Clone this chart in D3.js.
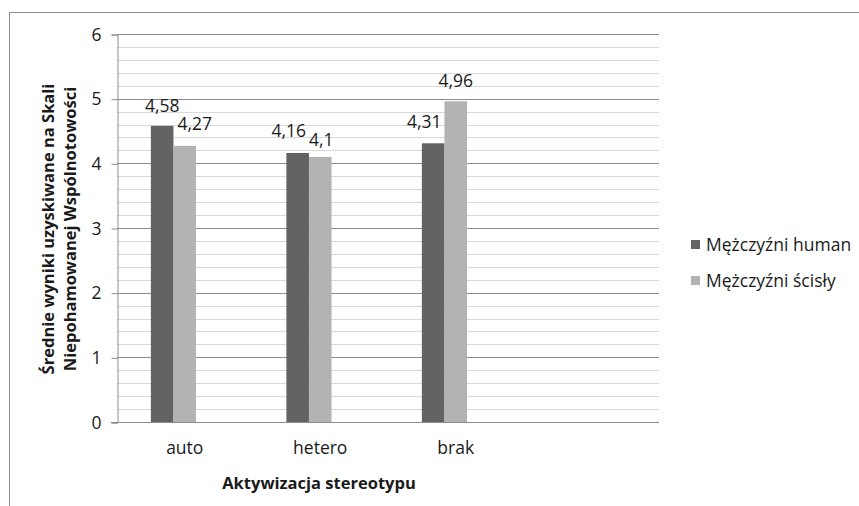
<!DOCTYPE html>
<html><head><meta charset="utf-8">
<script src="https://cdn.jsdelivr.net/npm/d3@7"></script>
<style>body{margin:0;background:#fff}svg{display:block}text{font-family:"Open Sans",sans-serif;fill:#1a1a1a}</style>
</head><body><svg id="c" width="859" height="506"></svg>
<script>
const categories = ["auto", "hetero", "brak"];
const seriesNames = ["Mężczyźni human", "Mężczyźni ścisły"];
const human = [4.58, 4.16, 4.31];
const scisly = [4.27, 4.1, 4.96];
const yTicks = [0, 1, 2, 3, 4, 5, 6];
const yTitle = ["Średnie wyniki uzyskiwane na Skali", "Niepohamowanej Wspólnotowości"];
const xTitle = "Aktywizacja stereotypu";

const colors = ["#636363", "#b3b3b3"];
const values = [human, scisly];
const svg = d3.select("#c");
const L = 117, R = 659, T = 34, B = 422;
const FS = 17.5;

// frame
svg.append("path").attr("d", "M9.5,506 V12.5 H859").attr("fill", "none").attr("stroke", "#8c8c8c");

const y = d3.scaleLinear().domain([0, 6]).range([B, T]);
// 4 slots (last empty) and 3 sub-slots (last empty), as in the original layout
const x = d3.scaleBand().domain(categories.concat(["_empty"])).range([L, R]).paddingInner(0.5).paddingOuter(0.25);
const xs = d3.scaleBand().domain(seriesNames.concat(["_empty"])).range([0, x.bandwidth()]);

// minor grid
const minor = d3.range(0, 30).map(i => i * 0.2).filter(v => Math.abs(v - Math.round(v)) > 1e-6);
svg.append("g").selectAll("line").data(minor).join("line")
  .attr("x1", L).attr("x2", R).attr("y1", d => Math.round(y(d)) + 0.5).attr("y2", d => Math.round(y(d)) + 0.5)
  .attr("stroke", "#d9d9d9");
// major grid
svg.append("g").selectAll("line").data(yTicks.slice(1)).join("line")
  .attr("x1", L).attr("x2", R).attr("y1", d => Math.round(y(d)) + 0.5).attr("y2", d => Math.round(y(d)) + 0.5)
  .attr("stroke", "#8c8c8c");

// y axis
const yAxis = svg.append("g").attr("transform", `translate(${L + 0.5},0.5)`)
  .call(d3.axisLeft(y).tickValues(yTicks).tickSize(6).tickPadding(10).tickFormat(d3.format("d")));
yAxis.select(".domain").attr("stroke", "#8c8c8c");
yAxis.selectAll(".tick line").attr("stroke", "#8c8c8c");
yAxis.selectAll("text").attr("font-size", FS).attr("fill", "#1a1a1a").attr("font-family", "Open Sans");

// bars
categories.forEach((c, ci) => {
  seriesNames.forEach((s, si) => {
    const v = values[si][ci];
    svg.append("rect").attr("x", x(c) + xs(s)).attr("width", xs.bandwidth())
      .attr("y", y(v)).attr("height", y(0) - y(v)).attr("fill", colors[si]);
  });
});

// x axis
const xAxis = svg.append("g").attr("transform", `translate(0,${B + 0.5})`)
  .call(d3.axisBottom(x).tickValues(categories).tickSize(0).tickPadding(19));
xAxis.select(".domain").attr("d", `M${L - 6},0H${R}`).attr("stroke", "#8c8c8c");
xAxis.selectAll("text").attr("font-size", FS).attr("fill", "#1a1a1a").attr("font-family", "Open Sans");

// data labels (nudged like the original)
const nudge = [[[0, 0], [10, -2]], [[-9, -2], [1, 3]], [[-9, -1], [0, 0]]];
categories.forEach((c, ci) => {
  seriesNames.forEach((s, si) => {
    const v = values[si][ci];
    const n = nudge[ci][si];
    svg.append("text").attr("x", x(c) + xs(s) + xs.bandwidth() / 2 + n[0]).attr("y", y(v) - 14 + n[1])
      .attr("text-anchor", "middle").attr("font-size", FS).text(d3.format(".2~f")(v).replace(".", ","));
  });
});

// titles
svg.append("text").attr("x", 319).attr("y", 489).attr("text-anchor", "middle")
  .attr("font-size", 16.5).attr("font-weight", "bold").text(xTitle);
yTitle.forEach((t, i) => {
  svg.append("text").attr("transform", `translate(${54 + i * 22},229) rotate(-90)`)
    .attr("text-anchor", "middle").attr("font-size", 16.5).attr("font-weight", "bold").text(t);
});

// legend
seriesNames.forEach((s, i) => {
  const ly = 245 + i * 36;
  svg.append("rect").attr("x", 691).attr("y", ly - 5).attr("width", 9).attr("height", 9).attr("fill", colors[i]);
  svg.append("text").attr("x", 706).attr("y", ly + 6).attr("font-size", FS).text(s);
});
</script></body></html>
